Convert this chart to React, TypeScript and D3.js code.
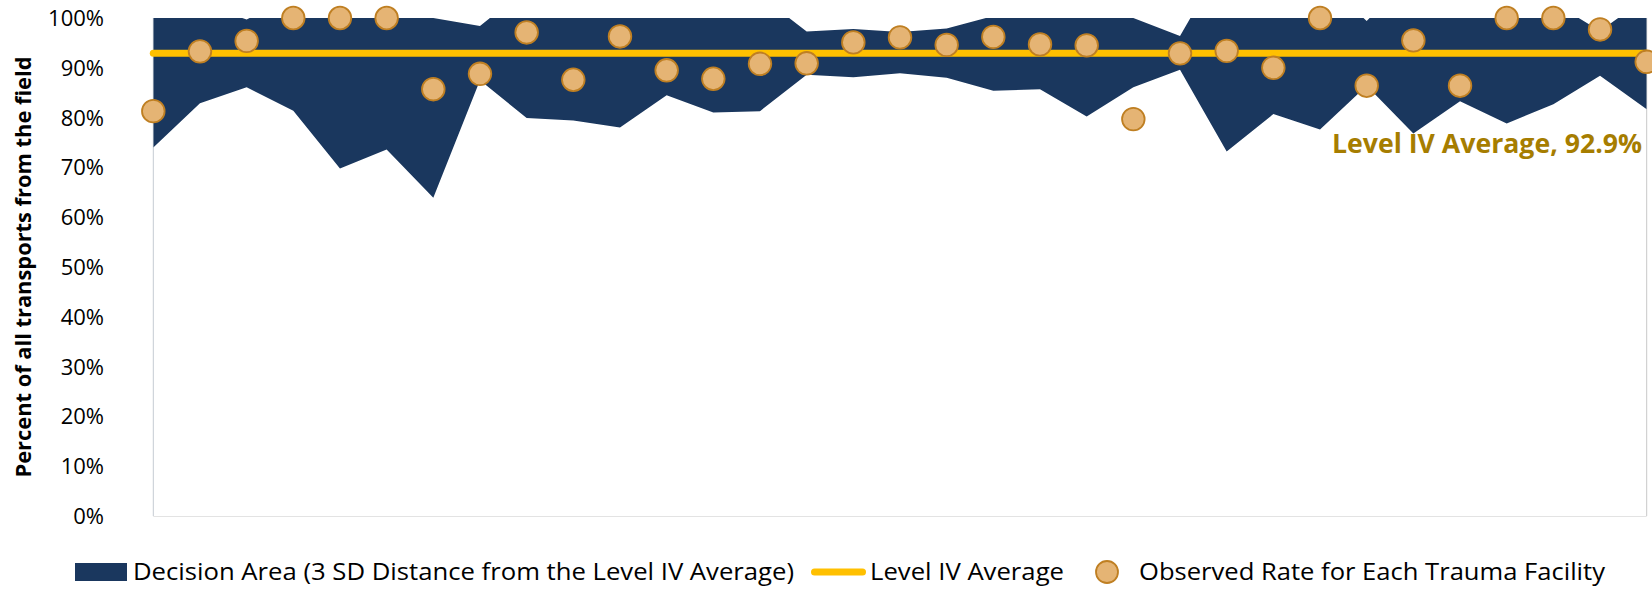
import React from "react";
import * as d3 from "d3";

// ---- data ----
const observedRate = [
  81.3, 93.3, 95.4, 100, 100, 100, 85.7, 88.8, 97.1, 87.6, 96.3, 89.5, 87.8,
  90.8, 90.9, 95.1, 96.1, 94.6, 96.2, 94.7, 94.5, 79.7, 92.9, 93.4, 90.0, 100,
  86.4, 95.5, 86.4, 100, 100, 97.7, 91.2,
];
const lowerLimit = [
  74.0, 82.9, 86.1, 81.4, 69.8, 73.6, 63.9, 87.5, 79.9, 79.4, 78.0, 84.5, 81.0,
  81.3, 88.6, 88.1, 88.9, 88.0, 85.4, 85.7, 80.2, 86.1, 89.6, 73.2, 80.7, 77.6,
  86.4, 76.8, 83.3, 78.8, 82.7, 88.4, 81.7,
];
const upperLimit = [
  111.8, 102.9, 99.7, 104.4, 116.0, 112.2, 100.0, 98.4, 105.9, 106.4, 107.8,
  101.3, 104.8, 104.5, 97.3, 97.8, 97.2, 97.9, 100.4, 100.1, 105.6, 100.0, 96.4,
  112.6, 105.1, 108.2, 99.4, 109.0, 102.5, 107.0, 103.1, 97.4, 104.1,
];
const levelAverage = 92.9;
const yTicks = [0, 10, 20, 30, 40, 50, 60, 70, 80, 90, 100];
const facilities = observedRate.map((_, i) => `Facility ${i + 1}`);

const avgLabel = "Level IV Average, 92.9%";
const yTitle = "Percent of all transports from the field";
const legendArea = "Decision Area (3 SD Distance from the Level IV Average)";
const legendLine = "Level IV Average";
const legendDot = "Observed Rate for Each Trauma Facility";

// ---- styles ----
const NAVY = "#1A375E";
const GOLD = "#FFC000";
const DOT_FILL = "#E5B474";
const DOT_STROKE = "#BF7F22";
const LABEL = "#A67D00";
const FONT = "'Open Sans', 'Noto Sans', sans-serif";

const W = 1652;
const H = 589;
const left = 153.3;
const right = 1646.7;
const top = 18;
const bottom = 516;

export default function App() {
  const x = d3
    .scalePoint<string>()
    .domain(facilities)
    .range([left, right]);
  const y = d3.scaleLinear().domain([0, 100]).range([bottom, top]);

  const band = facilities.map((f, i) => ({
    f,
    lo: lowerLimit[i],
    hi: upperLimit[i],
  }));
  const areaPath =
    d3
      .area<{ f: string; lo: number; hi: number }>()
      .x((d) => x(d.f) as number)
      .y0((d) => y(d.lo))
      .y1((d) => y(d.hi))(band) || "";

  const avgPath =
    d3
      .line<string>()
      .x((d) => x(d) as number)
      .y(() => y(levelAverage))(facilities) || "";

  const legendY = 572;

  return (
    <svg
      width={W}
      height={H}
      style={{ position: "absolute", left: 0, top: 0, background: "#fff" }}
      fontFamily={FONT}
    >
      <defs>
        <clipPath id="plotClip">
          <rect x={left} y={top} width={right - left} height={bottom - top} />
        </clipPath>
      </defs>

      {/* axis lines */}
      <line x1={left} x2={left} y1={top} y2={bottom} stroke="#C5CBD3" strokeWidth={1} />
      <line x1={left} x2={right} y1={bottom + 0.5} y2={bottom + 0.5} stroke="#E3E3E3" strokeWidth={1} />
      <line x1={right} x2={right} y1={top} y2={bottom} stroke="#C8C8C8" strokeWidth={1} />

      {/* decision area */}
      <path d={areaPath} fill={NAVY} clipPath="url(#plotClip)" />

      {/* average line */}
      <path d={avgPath} stroke={GOLD} strokeWidth={7} strokeLinecap="round" fill="none" />

      {/* observed points */}
      {observedRate.map((v, i) => (
        <circle
          key={i}
          cx={x(facilities[i]) as number}
          cy={y(v)}
          r={11.3}
          fill={DOT_FILL}
          stroke={DOT_STROKE}
          strokeWidth={1.8}
        />
      ))}

      {/* average label */}
      <text
        x={1642}
        y={153}
        textAnchor="end"
        fontSize={26}
        fontWeight={700}
        fill={LABEL}
        textLength={310}
        lengthAdjust="spacingAndGlyphs"
      >
        {avgLabel}
      </text>

      {/* y tick labels */}
      {yTicks.map((t) => (
        <text key={t} x={104} y={y(t) + 7.9} textAnchor="end" fontSize={22} fill="#000">
          {`${t}%`}
        </text>
      ))}

      {/* y axis title */}
      <text
        transform={`translate(31, ${(top + bottom) / 2}) rotate(-90)`}
        textAnchor="middle"
        fontSize={22}
        fontWeight={700}
        fill="#000"
        textLength={421}
        lengthAdjust="spacingAndGlyphs"
      >
        {yTitle}
      </text>

      {/* legend */}
      <rect x={75} y={563} width={52} height={18} fill={NAVY} />
      <text x={133} y={580} fontSize={23} fill="#000" textLength={661} lengthAdjust="spacingAndGlyphs">
        {legendArea}
      </text>
      <line x1={814.5} x2={862.5} y1={legendY} y2={legendY} stroke={GOLD} strokeWidth={7} strokeLinecap="round" />
      <text x={870} y={580} fontSize={23} fill="#000" textLength={194} lengthAdjust="spacingAndGlyphs">
        {legendLine}
      </text>
      <circle cx={1107} cy={legendY} r={11} fill={DOT_FILL} stroke={DOT_STROKE} strokeWidth={1.8} />
      <text x={1139} y={580} fontSize={23} fill="#000" textLength={466} lengthAdjust="spacingAndGlyphs">
        {legendDot}
      </text>
    </svg>
  );
}
